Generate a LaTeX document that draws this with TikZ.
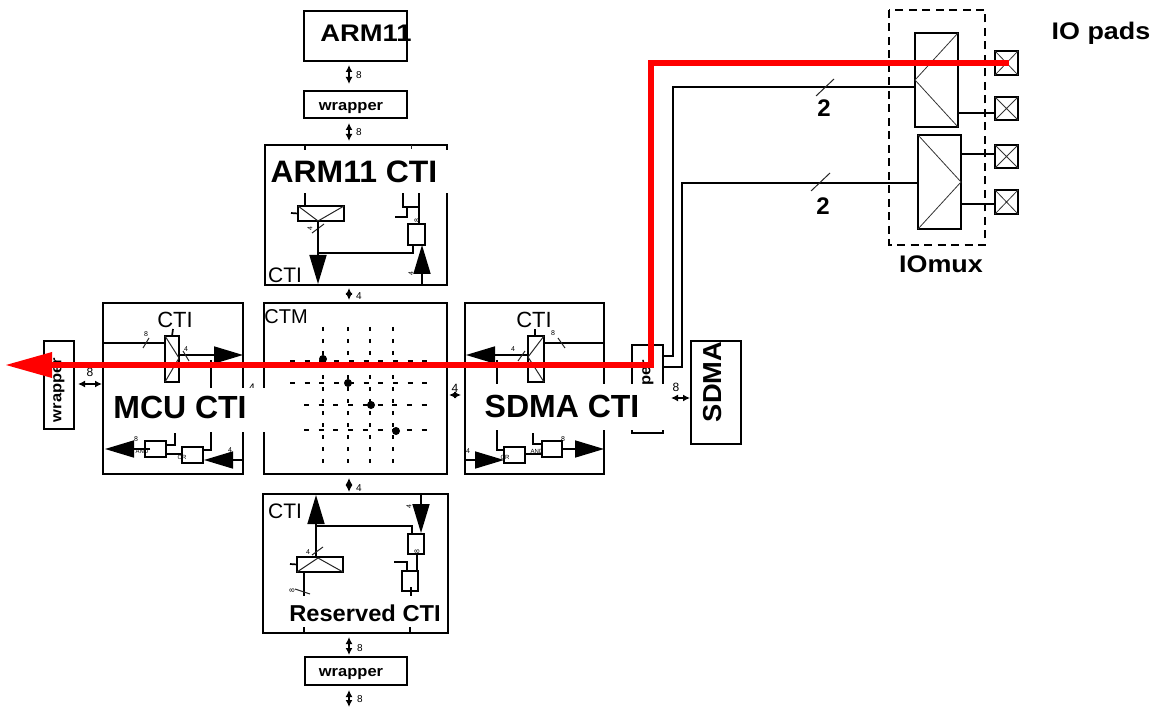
\documentclass[tikz,border=0pt]{standalone}
\usepackage{graphicx}
\usepackage{fontspec}
\setmainfont{Liberation Sans}
\usetikzlibrary{arrows.meta,calc}
\tikzset{
  boxnode/.style={draw=black,line width=2pt,inner sep=0pt,outer sep=0pt,fill=none},
  innerbox/.style={line width=1.8pt},
  wire/.style={draw=black,line width=1.7pt},
  thinwire/.style={draw=black!85,line width=1pt},
  padline/.style={draw=black!80,line width=0.8pt},
  patchnode/.style={fill=white,draw=none,inner sep=0pt,outer sep=0pt},
  lab/.style={inner sep=0pt,outer sep=0pt,text=black},
  bigarrow/.style={draw=black,line width=1.7pt,-{Triangle[length=29pt,width=17pt,fill=black]}},
  biarrow/.style={draw=black,line width=1.6pt,{Latex[length=7pt,width=7pt]}-{Latex[length=7pt,width=7pt]}},
  griddashv/.style={draw=black,line width=1.4pt,dash pattern=on 4pt off 8pt},
  griddashh/.style={draw=black,line width=1.4pt,dash pattern=on 5pt off 9.7pt},
  crossdot/.style={circle,fill=black,inner sep=0pt,minimum size=8pt},
  redpath/.style={draw={rgb,255:red,255;green,0;blue,0},line width=5.8pt}
}
\newcommand{\bx}[6][]{\node[boxnode,#1,minimum width={(#5-#3)*1pt},minimum height={(#6-#4)*1pt}] (#2) at ({(#3+#5)/2},{(#4+#6)/2}) {};}
\newcommand{\patch}[5]{\node[patchnode,minimum width={(#4-#2)*1pt},minimum height={(#5-#3)*1pt}] (#1) at ({(#2+#4)/2},{(#3+#5)/2}) {};}
\newcommand{\blab}[7][0]{\node[lab,rotate=#1,font=\fontsize{#5}{#5}\selectfont\bfseries] (#2) at (#3,#4) {\scalebox{#6}[1]{#7}};}
\newcommand{\rlab}[6][0]{\node[lab,rotate=#1,font=\fontsize{#5}{#5}\selectfont] (#2) at (#3,#4) {#6};}
\begin{document}
\begin{tikzpicture}[x=1pt,y=-1pt]
\useasboundingbox (0,0) rectangle (1156,708);
% ---------- top column
\bx{arm}{304}{11}{407}{61}
\blab{armt}{366}{33}{24}{1.14}{ARM11}
\bx{wraptop}{304}{91}{407}{118}
\blab{wraptopt}{351}{108}{15}{1.1}{wrapper}
\bx{armcti}{265}{145}{447}{285}
\bx{ctm}{264}{303}{447}{474}
\bx{mcucti}{103}{303}{243}{474}
\bx{sdmacti}{465}{303}{604}{474}
\bx{rescti}{263}{494}{448}{633}
\bx{wrapbot}{305}{657}{407}{685}
\blab{wrapbott}{351}{674}{15}{1.1}{wrapper}
\bx{wrapl}{44}{341}{74}{429}
\blab[90]{wraplt}{59}{390}{15}{1.1}{wrapper}
\bx{wrapr}{632}{345}{663}{433}
\blab[90]{wraprt}{648}{392}{15}{1.1}{wrapper}
\bx{sdma}{691}{341}{741}{444}
\blab[90]{sdmat}{713}{382}{26}{1.05}{SDMA}
% ---------- vertical bus arrows
\coordinate (busx) at (349,0);
\draw[biarrow] (busx |- 0,65) -- (busx |- 0,84);
\rlab{l8a}{359}{75}{10}{8}
\draw[biarrow] (busx |- 0,123) -- (busx |- 0,141);
\rlab{l8b}{359}{132}{10}{8}
\draw[biarrow] (busx |- 0,288) -- (busx |- 0,300);
\rlab{l4a}{359}{296}{10}{4}
\draw[biarrow] (busx |- 0,478) -- (busx |- 0,492);
\rlab{l4b}{359}{488}{10}{4}
\draw[biarrow] (busx |- 0,637) -- (busx |- 0,655);
\rlab{l8c}{360}{648}{10}{8}
\draw[biarrow] (busx |- 0,690) -- (busx |- 0,707);
\rlab{l8d}{360}{699}{10}{8}
% ---------- ARM11 CTI interior
\bx[innerbox]{mxa}{298}{206}{344}{221}
\draw[thinwire] (mxa.north west) -- (318,221) -- (mxa.north east);
\draw[wire] (305,145) -- (305,206);
\draw[wire] (291,213) -- (mxa.west);
\draw[thinwire] (312,233) -- (324,224);
\rlab[90]{s4a}{310}{229}{7}{4}
\bx[innerbox]{ga}{408}{224}{425}{245}
\draw[bigarrow] (318,221) -- (318,284);
\draw[wire] (318,253) -- (413,253) -- (ga.south -| 413,0);
\draw[bigarrow] (422,285) -- (ga.south -| 422,0);
\draw[wire] (403,193) -- (403,207) -- (419,207);
\draw[wire] (419,193) -- (419,224);
\draw[wire] (407,207) -- (407,217) -- (395,217);
\draw[thinwire] (411,145) -- (411,149);
\rlab[90]{s8a}{417}{221}{7}{8}
\rlab[90]{s4b}{411}{274}{7}{4}
\patch{parm}{269}{150}{449}{193}
\draw[wire] (447,145) -- (447,150);
\blab{armctit}{354}{172}{31}{1.03}{ARM11 CTI}
\rlab{ctia}{285}{275}{21}{CTI}
% ---------- CTM
\rlab{ctmt}{286}{317}{20}{CTM}
\foreach \vx in {323,348,370,393} \draw[griddashv] (\vx,327) -- (\vx,466);
\draw[griddashh] (290,361) -- (430,361);
\draw[griddashh] (290,383) -- (430,383);
\draw[griddashh] (304,405) -- (430,405);
\draw[griddashh] (304,430) -- (430,430);
\node[crossdot] (d1) at (323,359) {};
\node[crossdot] (d2) at (348,383) {};
\node[crossdot] (d3) at (371,405) {};
\node[crossdot] (d4) at (396,431) {};
% ---------- MCU CTI interior
\bx[innerbox]{mxm}{165}{336}{179}{382}
\draw[thinwire] (mxm.north west) -- (179,358) -- (mxm.south west);
\draw[wire] (mxm.north) -- (173,329);
\draw[wire] (mcucti.west |- 0,343) -- (165,343);
\draw[thinwire] (143,348) -- (149,338);
\rlab{s8m}{146}{334}{7}{8}
\draw[bigarrow] (179,355) -- (243,355);
\draw[thinwire] (183,351) -- (189,361);
\rlab{s4m}{186}{349}{7}{4}
\draw[wire] (211,360) -- (211,390);
\rlab{l4m}{252}{388}{11}{4}
\patch{pmcu}{114}{388}{265.5}{432}
\bx[innerbox]{orm}{182}{447}{203}{463}
\bx[innerbox]{andm}{145}{441}{166}{457}
\draw[wire] (211,432) -- (211,450) -- (203,450);
\draw[wire] (175,433) -- (175,445) -- (166,445);
\draw[wire] (166,454) -- (182,454);
\draw[bigarrow] (150,449) -- (105,449);
\draw[bigarrow] (243,460) -- (204,460);
\rlab{tandm}{142}{451}{6}{AND}
\rlab{torm}{182}{457}{6}{OR}
\rlab{s8mb}{136}{439}{7}{8}
\rlab{s4mb}{230}{450}{7}{4}
\blab{mcut}{180}{407}{32}{1}{MCU CTI}
\rlab{ctim}{175}{320}{22}{CTI}
% wrapper to MCU
\rlab{l8w}{90}{372}{12}{8}
\draw[biarrow] (78,384) -- (102,384);
% ---------- SDMA CTI interior
\bx[innerbox]{mxs}{528}{336}{544}{382}
\draw[thinwire] (mxs.north east) -- (528,357) -- (mxs.south east);
\draw[wire] (mxs.north -| 535,0) -- (535,329);
\draw[wire] (544,343) -- (604,343);
\draw[thinwire] (558,338) -- (565,348);
\rlab{s8s}{553}{333}{7}{8}
\draw[bigarrow] (528,355) -- (466,355);
\draw[thinwire] (518,361) -- (525,351);
\rlab{s4s}{513}{349}{7}{4}
\draw[wire] (497,360) -- (497,390);
\rlab[90]{s8w}{619}{387}{9}{8}
\draw[biarrow] (449,395) -- (461,395);
\rlab{l4s}{455}{388}{12}{4}
\draw[wire] (wrapr.east |- 0,356) -- (673,356) -- (673,87) -- (915,87);
\draw[wire] (wrapr.east |- 0,367) -- (682,367) -- (682,183) -- (918,183);
\patch{psdma}{468}{384}{686}{430}
\bx[innerbox]{ors}{504}{447}{525}{463}
\bx[innerbox]{ands}{542}{441}{562}{457}
\draw[wire] (497,430) -- (497,450) -- (504,450);
\draw[wire] (533,433) -- (533,444) -- (542,444);
\draw[wire] (525,454) -- (542,454);
\draw[bigarrow] (562,449) -- (604,449);
\draw[bigarrow] (465,460) -- (504,460);
\rlab{tands}{537}{451}{6}{AND}
\rlab{tors}{505}{457}{6}{OR}
\rlab{s8sb}{563}{439}{7}{8}
\rlab{s4sb}{468}{451}{7}{4}
\blab{sdmactit}{562}{406}{32}{1}{SDMA CTI}
\rlab{ctis}{534}{320}{22}{CTI}
\rlab{l8s}{676}{387}{12}{8}
\draw[biarrow] (671,398) -- (690,398);
% ---------- Reserved CTI interior
\rlab{ctir}{285}{511}{21}{CTI}
\bx[innerbox]{mxr}{297}{557}{343}{572}
\draw[thinwire] (mxr.south west) -- (318,558) -- (mxr.south east);
\draw[bigarrow] (316,557) -- (316,495);
\draw[wire] (316,526) -- (412,526) -- (412,534);
\draw[wire] (290,564) -- (mxr.west);
\draw[thinwire] (312,555) -- (323,547);
\rlab{s4r}{308}{552}{7}{4}
\draw[wire] (304,572) -- (304,633);
\draw[thinwire] (295,589) -- (310,594);
\rlab[90]{s8r}{292}{591}{7}{8}
\bx[innerbox]{gr}{408}{534}{424}{554}
\bx[innerbox]{gs}{402}{571}{418}{591}
\draw[bigarrow] (421,494) -- (421,533);
\rlab[90]{s4q}{409}{507}{7}{4}
\draw[wire] (417,554) -- (417,571);
\draw[wire] (394,562) -- (407,562) -- (407,571);
\draw[wire] (411,587) -- (411,597);
\rlab[90]{s8q}{417}{552}{7}{8}
\patch{pres}{280}{596}{446}{627}
\draw[black,line width=1.6pt] (410,627) -- (410,632);
\blab{rest}{365}{613}{23}{1.03}{Reserved CTI}
% ---------- IOmux
\draw[black,line width=1.6pt,dash pattern=on 8pt off 5.5pt] (889,10) rectangle (985,245);
\bx[innerbox]{iom}{915}{33}{958}{127}
\draw[padline] (iom.north east) -- (915,80) -- (iom.south east);
\bx[innerbox]{ion}{918}{135}{961}{229}
\draw[padline] (ion.north west) -- (961,182) -- (ion.south west);
\foreach \pn/\pa/\pb in {pa/51/75,pb/97/120,pc/145/168,pd/190/214}{
  \bx[innerbox]{\pn}{995}{\pa}{1018}{\pb}
  \draw[padline] (\pn.north west) -- (\pn.south east) (\pn.north east) -- (\pn.south west);
}
\draw[wire] (pb.west |- 0,113) -- (iom.east |- 0,113);
\draw[wire] (pc.west |- 0,154) -- (ion.east |- 0,154);
\draw[wire] (pd.west |- 0,204) -- (ion.east |- 0,204);
\draw[thinwire] (816,96) -- (834,79);
\draw[thinwire] (811,191) -- (830,173);
\blab{two}{824}{108}{24}{1}{2}
\blab{twob}{823}{206}{24}{1}{2}
\blab{iomt}{941}{264}{24}{1.12}{IOmux}
\blab{padt}{1101}{33}{24}{1.12}{IO pads}
% ---------- red highlighted path
\coordinate (rc) at (651,63);
\coordinate (rd) at (651,365);
\coordinate (re) at (52,365);
\draw[redpath,line join=miter] ([xshift=2.5pt]pa.center) -- (rc) -- (rd) -- (re);
\fill[red] (6,365) -- (52,352) -- (52,378) -- cycle;
\end{tikzpicture}
\end{document}
